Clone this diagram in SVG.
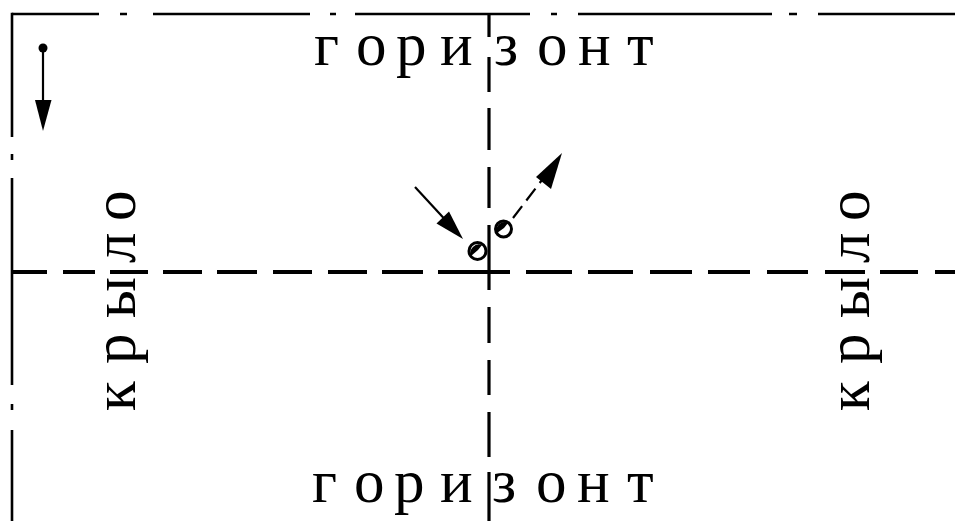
<svg xmlns="http://www.w3.org/2000/svg" width="955" height="521" viewBox="0 0 955 521">
  <style>
    .frame { stroke: #000; stroke-width: 2.6; fill: none; stroke-linecap: butt; }
    .axis-h { stroke: #000; stroke-width: 4; fill: none; }
    .axis-v { stroke: #000; stroke-width: 3.2; fill: none; }
    .shaft { stroke: #000; stroke-width: 2.2; fill: none; }
    .head { fill: #000; stroke: none; }
    .lbl { font-family: "Liberation Serif", "Times New Roman", serif; font-size: 61px; fill: #000; }
    .ball { fill: none; stroke: #000; stroke-width: 3; }
  </style>

  <rect width="955" height="521" fill="#fff"/>

  <g id="frame">
    <path class="frame" d="M12,14 H99 M120,14 H127 M153,14 H310 M330,14 H336 M355,14 H530 M551,14 H557 M578,14 H772 M789,14 H797 M818,14 H955"/>
    <path class="frame" d="M12,12.7 V137 M12,154 V160 M12,178 V385 M12,404 V410 M12,430 V521"/>
  </g>

  <g id="axes">
    <path class="axis-h" d="M12,272 H47 M63,272 H95 M110,272 H148 M163,272 H202 M217,272 H257 M273,272 H312 M328,272 H367 M382,272 H423 M438,272 H510 M526,272 H572 M588,272 H633 M650,272 H692 M708,272 H750 M767,272 H808 M825,272 H865 M880,272 H918 M935,272 H955"/>
    <path class="axis-v" d="M489,14 V37 M489,57 V92 M489,108 V150 M489,167 V208 M489,225 V290 M489,307 V343 M489,360 V395 M489,412 V457 M489,472 V521"/>
  </g>

  <g id="label-top">
    <text class="lbl" x="314 335 356 376 396 418 440 467 494 516 537 557 578 602 627" y="65">г о р и з о н т</text>
  </g>
  <g id="label-bottom">
    <text class="lbl" x="312 333 354 374 394 418 440 466 492 514 536 556 577 601 627" y="502">г о р и з о н т</text>
  </g>
  <g id="label-left">
    <text class="lbl" transform="translate(135,0) rotate(-90)" x="-411 -387 -364 -340 -318 -290 -263 -241 -221" y="0">к р ы л о</text>
  </g>
  <g id="label-right">
    <text class="lbl" transform="translate(869,0) rotate(-90)" x="-411 -387 -364 -340 -318 -290 -263 -241 -221" y="0">к р ы л о</text>
  </g>

  <g id="connectors">
    <g id="arrow-down">
      <circle cx="43" cy="48" r="4.5" fill="#000"/>
      <path class="shaft" d="M43,48 V102"/>
      <polygon class="head" points="35,100 51.5,100 43,131"/>
    </g>
    <g id="arrow-in">
      <path class="shaft" d="M415,187 L445,219.5"/>
      <polygon class="head" points="436.5,223.5 449,211.5 463,239"/>
    </g>
    <g id="arrow-out">
      <path class="shaft" d="M513,218 L545,176" stroke-dasharray="15 7"/>
      <polygon class="head" points="536,177 551,189 562,153"/>
    </g>
  </g>

  <g id="ball-1">
    <circle class="ball" cx="477.5" cy="251" r="8.5"/>
    <path class="head" d="M471,256 A8.5,8.5 0 0 1 482,245 L478,250 Z"/>
  </g>
  <g id="ball-2">
    <circle class="ball" cx="503.5" cy="229" r="8"/>
    <path class="head" d="M497,233 A8,8 0 0 1 508,223 L504,228 Z"/>
  </g>
</svg>
